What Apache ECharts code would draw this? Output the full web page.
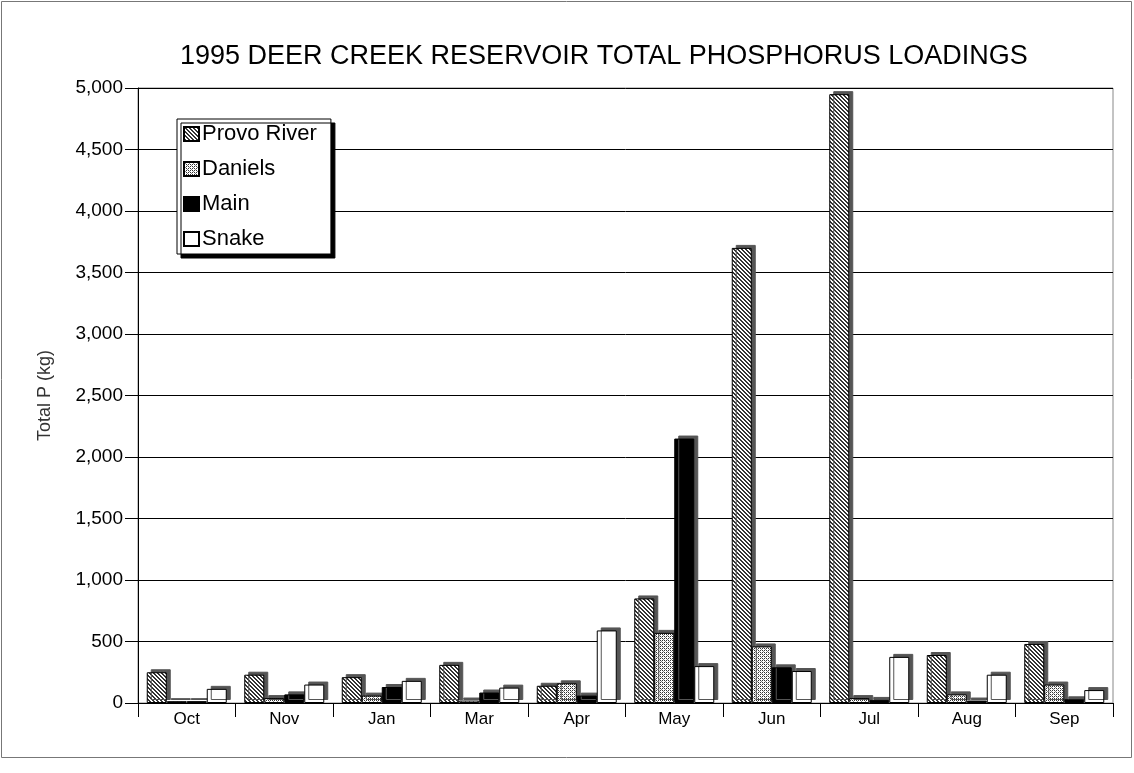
<!DOCTYPE html>
<html>
<head>
<meta charset="utf-8">
<script src="https://cdn.jsdelivr.net/npm/echarts@6/dist/echarts.min.js"></script>
<style>
html, body { margin: 0; padding: 0; background: #fff; }
#chart { width: 1134px; height: 773px; }
</style>
</head>
<body>
<div id="chart"></div>
<script>
var months = ['Oct', 'Nov', 'Jan', 'Mar', 'Apr', 'May', 'Jun', 'Jul', 'Aug', 'Sep'];
var provoRiver = [250, 230, 210, 310, 140, 850, 3700, 4950, 390, 480];
var daniels = [15, 40, 60, 20, 160, 570, 460, 40, 70, 150];
var mainCreek = [15, 70, 130, 85, 60, 2150, 290, 25, 20, 30];
var snake = [115, 150, 180, 125, 590, 300, 260, 375, 230, 105];

// hatch patterns
function makePattern(kind) {
    var c = document.createElement('canvas');
    c.width = 4; c.height = 4;
    var ctx = c.getContext('2d');
    ctx.fillStyle = '#fff';
    ctx.fillRect(0, 0, 4, 4);
    ctx.fillStyle = '#333';
    if (kind == 'diag') {
        for (var i = 0; i < 4; i++) {
            ctx.fillRect(i, i, 1, 1);
            ctx.fillRect((i + 1) % 4, i, 1, 1);
        }
    } else {
        ctx.fillRect(0, 0, 1, 1);
        ctx.fillRect(2, 2, 1, 1);
        ctx.fillRect(2, 0, 1, 1);
        ctx.fillRect(0, 2, 1, 1);
        ctx.fillStyle = '#888';
        ctx.fillRect(1, 1, 1, 1);
        ctx.fillRect(3, 3, 1, 1);
    }
    return c;
}

var myChart = echarts.init(document.getElementById('chart'));

function barSeries(name, data, color) {
    return {
        name: name,
        type: 'bar',
        barWidth: 20,
        barGap: '0%',
        data: data,
        itemStyle: {
            color: color,
            borderColor: '#000',
            borderWidth: 1,
            shadowColor: '#555',
            shadowBlur: 0,
            shadowOffsetX: 4,
            shadowOffsetY: -3
        }
    };
}

var option = {
    animation: false,
    title: {
        text: '1995 DEER CREEK RESERVOIR TOTAL PHOSPHORUS LOADINGS',
        left: 175,
        top: 38,
        textStyle: {
            fontFamily: 'Liberation Sans',
            fontWeight: 'normal',
            fontSize: 27,
            color: '#000'
        }
    },
    legend: {
        orient: 'vertical',
        left: 177,
        top: 119,
        padding: [4, 14, 4, 6],
        itemGap: 13,
        itemWidth: 15,
        itemHeight: 14,
        icon: 'rect',
        backgroundColor: '#fff',
        borderColor: '#000',
        borderWidth: 1,
        shadowColor: '#000',
        shadowBlur: 0,
        shadowOffsetX: 4,
        shadowOffsetY: 4,
        textStyle: {
            fontFamily: 'Liberation Sans',
            fontSize: 22,
            lineHeight: 22,
            color: '#000',
            padding: [0, 0, 0, -2]
        },
        data: ['Provo River', 'Daniels', 'Main', 'Snake']
    },
    grid: {
        left: 138,
        right: 21,
        top: 88,
        bottom: 70,
        show: true,
        borderColor: '#888',
        borderWidth: 1
    },
    xAxis: {
        type: 'category',
        data: months,
        axisLine: { lineStyle: { color: '#000' } },
        axisTick: { show: true, length: 14, lineStyle: { color: '#000' } },
        axisLabel: {
            fontFamily: 'Liberation Sans',
            fontSize: 17,
            color: '#000',
            margin: 8
        }
    },
    yAxis: {
        type: 'value',
        min: 0,
        max: 5000,
        interval: 500,
        name: 'Total P (kg)',
        nameLocation: 'middle',
        nameGap: 84,
        nameTextStyle: {
            fontFamily: 'Liberation Sans',
            fontSize: 18,
            color: '#333'
        },
        axisLine: { show: true, lineStyle: { color: '#000' } },
        axisTick: { show: true, length: 13, lineStyle: { color: '#000' } },
        splitLine: { lineStyle: { color: '#000', width: 1 } },
        axisLabel: {
            fontFamily: 'Liberation Sans',
            fontSize: 19,
            color: '#000',
            margin: 15,
            formatter: function(v) {
                return v.toLocaleString('en-US');
            }
        }
    },
    graphic: [
        {
            type: 'rect',
            shape: { x: 1.5, y: 1.5, width: 1130, height: 756 },
            style: { fill: 'none', stroke: '#777', lineWidth: 1 },
            z: -1
        }
    ],
    series: [
        barSeries('Provo River', provoRiver, { image: makePattern('diag'), repeat: 'repeat' }),
        barSeries('Daniels', daniels, { image: makePattern('dots'), repeat: 'repeat' }),
        barSeries('Main', mainCreek, '#000'),
        barSeries('Snake', snake, '#fff')
    ]
};

myChart.setOption(option);
</script>
</body>
</html>
